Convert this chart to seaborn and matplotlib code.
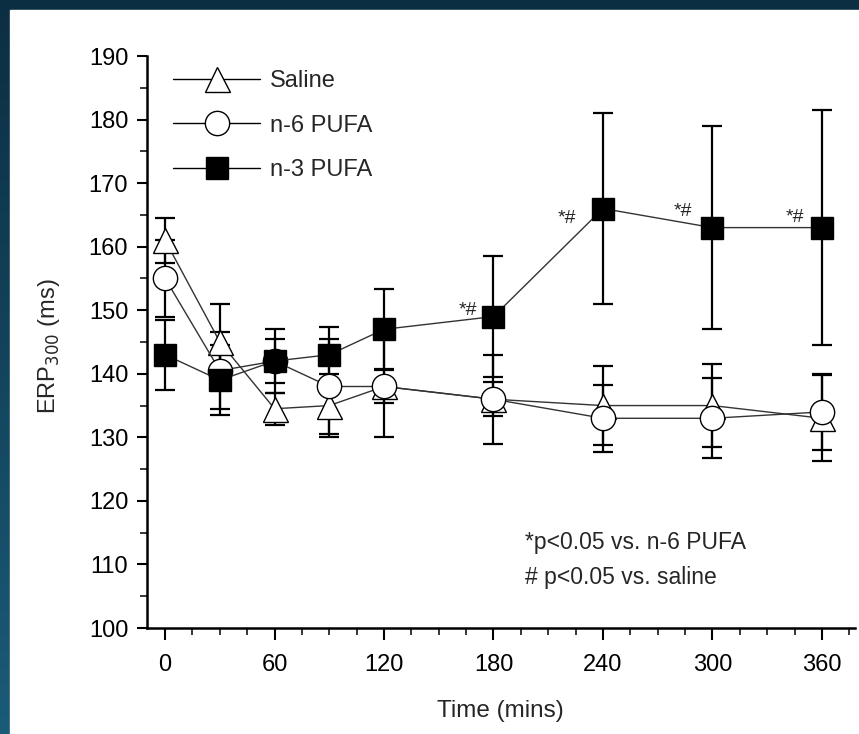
import numpy as np
import matplotlib
matplotlib.use('Agg')
import matplotlib.pyplot as plt
import seaborn as sns
from matplotlib.lines import Line2D
from matplotlib.patches import Rectangle
from matplotlib.ticker import MultipleLocator

# data (mean +/- error)
time = [0, 30, 60, 90, 120, 180, 240, 300, 360]
saline = [161, 145, 134.5, 135, 138, 136, 135, 135, 133]
saline_err = [3.5, 6, 2.5, 5, 2.6, 2.7, 6.2, 6.5, 6.8]
n6 = [155, 140.5, 142, 138, 138, 136, 133, 133, 134]
n6_err = [6, 6, 3.5, 7.5, 8, 7, 5.3, 6.3, 6]
n3 = [143, 139, 142, 143, 147, 149, 166, 163, 163]
n3_err = [5.5, 5.5, 5, 4.3, 6.3, 9.5, 15, 16, 18.5]

labels = ['Saline', 'n-6 PUFA', 'n-3 PUFA']
# "*#" marks: where the label sits (x, y) next to the n-3 points
sig_x = [166, 220, 284, 345]
sig_y = [149.9, 164.4, 165.6, 164.6]

sns.set_style('ticks')
plt.rcParams['font.family'] = ['Liberation Sans', 'DejaVu Sans']

fig = plt.figure(figsize=(8.59, 7.34), dpi=100)

# dark gradient frame + white panel
bg = fig.add_axes([0, 0, 1, 1], zorder=-10)
grad = np.linspace(0, 1, 256).reshape(-1, 1)
cmap = matplotlib.colors.LinearSegmentedColormap.from_list('bg', ['#0c2e42', '#1b5b78'])
bg.imshow(grad, aspect='auto', cmap=cmap, extent=[0, 1, 0, 1], origin='upper')
bg.add_patch(Rectangle((10 / 859, 0), 1, 1 - 10 / 734, color='white', zorder=2))
bg.set_xlim(0, 1)
bg.set_ylim(0, 1)
bg.axis('off')

ax = fig.add_axes([0.171, 0.1444, 0.824, 0.7793])
ax.patch.set_alpha(0)

series = [
    (saline, saline_err, '^', 'white', 18),
    (n6, n6_err, 'o', 'white', 17.5),
    (n3, n3_err, 's', 'black', 16),
]

for vals, err, mk, fc, ms in series:
    ax.errorbar(time, vals, yerr=err, fmt='none', ecolor='black',
                elinewidth=1.6, capsize=7.5, capthick=1.6, zorder=2)
for vals, err, mk, fc, ms in series:
    sns.lineplot(x=time, y=vals, ax=ax, color='#333333', linewidth=1.0,
                 marker=mk, markersize=ms, markerfacecolor=fc,
                 markeredgecolor='black', markeredgewidth=1.0, zorder=3)

# significance marks
for tx, ty in zip(sig_x, sig_y):
    ax.text(tx, ty, '*#', fontsize=14, ha='center', va='center')

ax.text(197.3, 113.4, '*p<0.05 vs. n-6 PUFA', fontsize=16.5, va='center')
ax.text(197.3, 107.9, '# p<0.05 vs. saline', fontsize=16.5, va='center')

handles = [
    Line2D([], [], color='black', lw=1.0, marker=mk, ms=ms,
           mfc=fc, mec='black', mew=1.0)
    for _, _, mk, fc, ms in series
]
ax.legend(handles, labels, loc='upper left', bbox_to_anchor=(0.0367, 0.975),
          frameon=False, fontsize=17, handlelength=3.7, handletextpad=0.42,
          labelspacing=0.95, numpoints=1, borderaxespad=0, borderpad=0)

ax.set_xlim(-10, 378)
ax.set_ylim(100, 190)
ax.xaxis.set_major_locator(MultipleLocator(60))
ax.xaxis.set_minor_locator(MultipleLocator(15))
ax.yaxis.set_major_locator(MultipleLocator(10))
ax.yaxis.set_minor_locator(MultipleLocator(5))
ax.tick_params(which='major', direction='out', width=1.5, colors='black', labelsize=17)
ax.tick_params(which='minor', direction='out', length=5, width=1.3)
ax.tick_params(axis='x', which='major', length=8.6, pad=10)
ax.tick_params(axis='y', which='major', length=7, pad=6.5)
for s in ['top', 'right']:
    ax.spines[s].set_visible(False)
for s in ['left', 'bottom']:
    ax.spines[s].set_linewidth(1.8)
    ax.spines[s].set_color('black')

ax.set_xlabel('Time (mins)', fontsize=17.5)
ax.set_ylabel('ERP$_{300}$ (ms)', fontsize=17)
ax.xaxis.set_label_coords(0.5, -0.126)
ax.yaxis.set_label_coords(-0.12, 0.493)

fig.savefig('out.png', dpi=100)
